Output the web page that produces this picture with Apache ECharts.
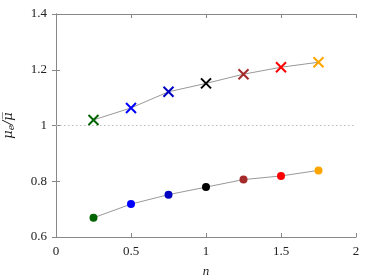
<!DOCTYPE html>
<html><head><meta charset="utf-8">
<script src="https://cdn.jsdelivr.net/npm/echarts@6/dist/echarts.min.js"></script>
<style>html,body{margin:0;padding:0;background:#fff}#c{width:374px;height:280px}</style>
</head><body><div id="c"></div>
<script>
const nValues = [0.25, 0.5, 0.75, 1.0, 1.25, 1.5, 1.75];
const crossValues = [1.020, 1.063, 1.121, 1.151, 1.184, 1.209, 1.227];
const dotValues = [0.669, 0.718, 0.752, 0.779, 0.806, 0.819, 0.839];
const pointColors = ['#006400', '#0000ff', '#0000c0', '#000000', '#a52a2a', '#ff0000', '#ffa500'];
const refLine = [[0, 1], [2, 1]];
const xTicks = [0, 0.5, 1, 1.5, 2];
const yTicks = [0.6, 0.8, 1, 1.2, 1.4];

const font = '"Liberation Serif", "DejaVu Serif", serif';
const nameFont = '"DejaVu Serif", "Liberation Serif", serif';
const axisColor = '#888';
const crossPath = 'path://M0,0L10,10M10,0L0,10';

function axisBase(show) {
  return {
    type: 'value',
    axisLine: {show: true, lineStyle: {color: axisColor, width: 1}},
    axisTick: {show: true, inside: true, length: 4, lineStyle: {color: axisColor}},
    splitLine: {show: false},
    axisLabel: {show: show, color: '#222', fontFamily: font, fontSize: 13}
  };
}

const chart = echarts.init(document.getElementById('c'), null, {renderer: 'canvas'});
chart.setOption({
  animation: false,
  backgroundColor: '#fff',
  grid: {left: 56, right: 18, top: 14, bottom: 43, containLabel: false, outerBoundsMode: 'none'},
  xAxis: [
    Object.assign(axisBase(true), {min: 0, max: 2, interval: 0.5, position: 'bottom',
      name: 'n', nameLocation: 'middle', nameGap: 28,
      nameTextStyle: {fontFamily: font, fontStyle: 'italic', fontSize: 13, color: '#222'},
      axisLabel: {show: true, color: '#222', fontFamily: font, fontSize: 13, margin: 8,
        formatter: v => xTicks.includes(v) ? String(v) : ''}}),
    Object.assign(axisBase(false), {min: 0, max: 2, interval: 0.5, position: 'top'})
  ],
  yAxis: [
    Object.assign(axisBase(true), {min: 0.6, max: 1.4, interval: 0.2, position: 'left',
      name: '{i|μ}{s|e}{i|/μ\u0305}', nameLocation: 'middle', nameGap: 40, nameRotate: 90,
      nameTextStyle: {rich: {
        i: {fontFamily: nameFont, fontStyle: 'italic', fontSize: 13, color: '#222'},
        s: {fontFamily: nameFont, fontStyle: 'italic', fontSize: 9, color: '#222', verticalAlign: 'bottom', padding: [6, 0, 0, 0]}
      }},
      axisLabel: {show: true, color: '#222', fontFamily: font, fontSize: 13, margin: 9,
        formatter: v => { const t = yTicks.find(y => Math.abs(y - v) < 1e-6); return t === undefined ? '' : String(t); }}}),
    Object.assign(axisBase(false), {min: 0.6, max: 1.4, interval: 0.2, position: 'right'})
  ],
  series: [
    {type: 'line', data: refLine, symbol: 'none', silent: true,
      lineStyle: {color: '#bbb', width: 1, type: [1.5, 2.5]}},
    {type: 'line', data: nValues.map((x, i) => ({value: [x, crossValues[i]],
        itemStyle: {color: 'rgba(0,0,0,0)', borderColor: pointColors[i], borderWidth: 2}})),
      symbol: crossPath, symbolSize: 10,
      lineStyle: {color: '#999', width: 1}},
    {type: 'line', data: nValues.map((x, i) => ({value: [x, dotValues[i]],
        itemStyle: {color: pointColors[i], borderWidth: 0}})),
      symbol: 'circle', symbolSize: 8,
      lineStyle: {color: '#999', width: 1}}
  ]
});
</script></body></html>
